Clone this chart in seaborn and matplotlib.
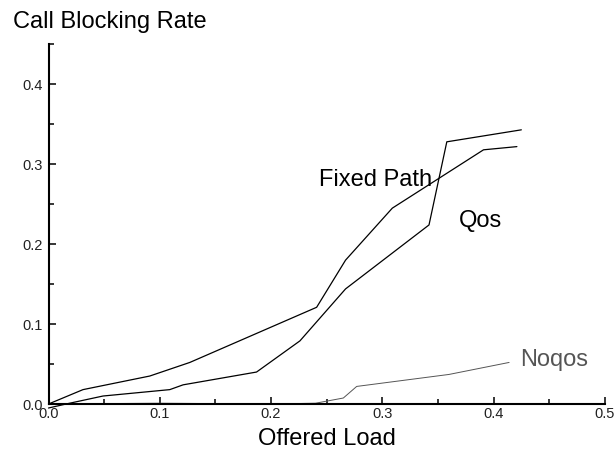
import matplotlib
matplotlib.use("Agg")
import matplotlib.pyplot as plt
from matplotlib.ticker import MultipleLocator, FixedLocator, FixedFormatter
import numpy as np
import pandas as pd
import seaborn as sns

# Blocking rate versus offered load for three routing schemes
fixed_x = [0.0, 0.031, 0.091, 0.127, 0.241, 0.267, 0.309, 0.391, 0.421]
fixed_y = [0.0, 0.018, 0.035, 0.052, 0.121, 0.180, 0.245, 0.318, 0.322]

qos_x = [0.0, 0.019, 0.049, 0.109, 0.121, 0.187, 0.226, 0.267, 0.342, 0.358, 0.425]
qos_y = [-0.005, 0.001, 0.010, 0.018, 0.024, 0.040, 0.079, 0.144, 0.224, 0.328, 0.343]

noqos_x = [0.0, 0.10, 0.20, 0.240, 0.265, 0.277, 0.360, 0.414]
noqos_y = [0.0, 0.001, 0.0, 0.001, 0.0075, 0.022, 0.037, 0.052]

series_names = ["Fixed Path", "Qos", "Noqos"]
series_colors = ["#000000", "#000000", "#555555"]

y_ticks = [0.0, 0.1, 0.2, 0.3, 0.4]
y_tick_labels = ["0.0", "0.1", "0.2", "0.3", "0.4"]
x_ticks = [0.0, 0.1, 0.2, 0.3, 0.4, 0.5]
x_tick_labels = ["0.0", "0.1", "0.2", "0.3", "0.4", "0.5"]

df = pd.concat([
    pd.DataFrame({"load": fixed_x, "rate": fixed_y, "scheme": "Fixed Path"}),
    pd.DataFrame({"load": qos_x, "rate": qos_y, "scheme": "Qos"}),
    pd.DataFrame({"load": noqos_x, "rate": noqos_y, "scheme": "Noqos"}),
], ignore_index=True)

sns.set_theme(style="ticks")
plt.rcParams["font.family"] = ["Liberation Sans", "DejaVu Sans"]

fig = plt.figure(figsize=(6.14, 4.59), dpi=100)
ax = fig.add_axes([0.079, 0.1198, 0.906, 0.7837])

widths = {"Fixed Path": 0.9, "Qos": 0.9, "Noqos": 0.7}
for name, color in zip(series_names, series_colors):
    sub = df[df["scheme"] == name]
    sns.lineplot(data=sub, x="load", y="rate", ax=ax, color=color,
                 linewidth=widths[name], estimator=None, sort=False,
                 legend=False, clip_on=False)

ax.set_xlim(0, 0.5)
ax.set_ylim(0, 0.45)

ax.xaxis.set_major_locator(FixedLocator(x_ticks))
ax.xaxis.set_major_formatter(FixedFormatter(x_tick_labels))
ax.xaxis.set_minor_locator(MultipleLocator(0.05))
ax.yaxis.set_major_locator(FixedLocator(y_ticks))
ax.yaxis.set_major_formatter(FixedFormatter(y_tick_labels))
ax.yaxis.set_minor_locator(FixedLocator([0.05, 0.15, 0.25, 0.35, 0.45]))

ax.tick_params(axis="both", which="major", direction="in", length=5.2,
               width=1.1, labelsize=10.5, color="black", labelcolor="#222222")
ax.tick_params(axis="both", which="minor", direction="in", length=3.3,
               width=1.1, color="black")
ax.tick_params(axis="x", which="major", pad=2.5)
ax.tick_params(axis="y", which="major", pad=4)

for side in ["top", "right"]:
    ax.spines[side].set_visible(False)
for side in ["left", "bottom"]:
    ax.spines[side].set_linewidth(1.5)
    ax.spines[side].set_color("black")

ax.set_xlabel("Offered Load", fontsize=17, labelpad=5, color="black")
ax.set_ylabel("")
fig.text(0.0205, 0.938, "Call Blocking Rate", fontsize=17, ha="left",
         va="baseline", color="black")

ax.text(0.243, 0.273, "Fixed Path", fontsize=17, ha="left", va="baseline",
        color="black")
ax.text(0.3685, 0.221, "Qos", fontsize=17, ha="left", va="baseline",
        color="black")
ax.text(0.424, 0.048, "Noqos", fontsize=17, ha="left", va="baseline",
        color="#555555")

fig.savefig("out.png", dpi=100, facecolor="white")
